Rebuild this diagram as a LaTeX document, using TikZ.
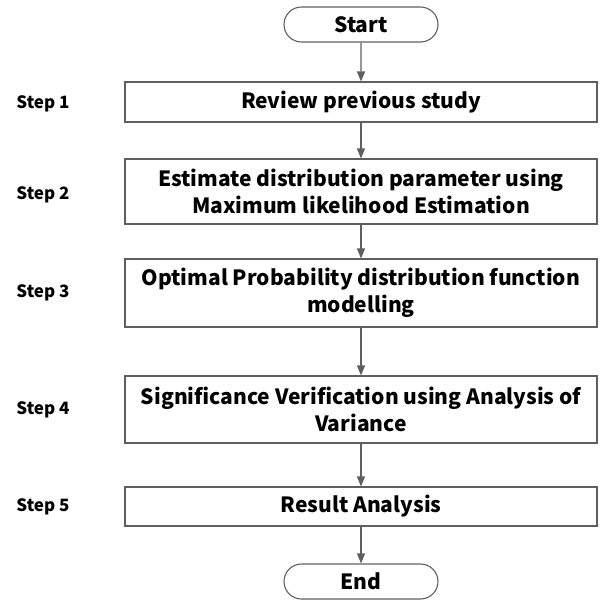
\documentclass[tikz,border=0pt]{standalone}
\usepackage{fontspec}
\setmainfont{Noto Sans CJK KR}
\usetikzlibrary{arrows.meta,shapes.misc}
\definecolor{linegray}{HTML}{5F5F5F}
\tikzset{
  box/.style={draw=linegray,line width=1.1pt,rectangle,minimum width=472pt,inner sep=0pt,align=center,font=\fontsize{21}{27}\selectfont\bfseries,text=black},
  term/.style={draw=linegray,line width=1.1pt,rounded rectangle,minimum width=154pt,minimum height=35pt,inner sep=0pt,font=\fontsize{21}{24}\selectfont\bfseries},
  steplabel/.style={font=\fontsize{17}{20}\selectfont\bfseries,inner sep=0pt},
  flow/.style={draw=linegray,line width=1.1pt,-{Triangle[length=10pt,width=8pt]}}
}
\begin{document}
\begin{tikzpicture}[x=1pt,y=-1pt]
\useasboundingbox (0,0) rectangle (600,600);
\node[term] (start) at (361,24.5) {Start};
\node[box,minimum height=40pt] (b1) at (361,102) {Review previous study};
\node[box,minimum height=65pt] (b2) at (361,191.5) {Estimate distribution parameter using\\Maximum likelihood Estimation};
\node[box,minimum height=68pt] (b3) at (361,293) {Optimal Probability distribution function\\modelling};
\node[box,minimum height=67pt] (b4) at (361,409.5) {Significance Verification using Analysis of\\Variance};
\node[box,minimum height=39pt] (b5) at (361,506.5) {Result Analysis};
\node[term] (end) at (361,581.5) {End};
\node[steplabel] (s1) at (43,104) {Step 1};
\node[steplabel] (s2) at (43,195) {Step 2};
\node[steplabel] (s3) at (43,293) {Step 3};
\node[steplabel] (s4) at (43,410) {Step 4};
\node[steplabel] (s5) at (43,507) {Step 5};
\draw[flow] (start) -- (b1);
\draw[flow] (b1) -- (b2);
\draw[flow] (b2) -- (b3);
\draw[flow] (b3) -- (b4);
\draw[flow] (b4) -- (b5);
\draw[flow] (b5) -- (end);
\end{tikzpicture}
\end{document}
